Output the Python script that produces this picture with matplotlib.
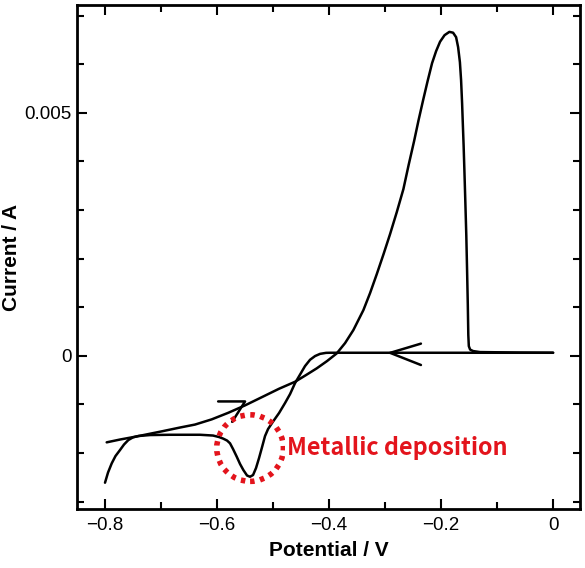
import matplotlib
matplotlib.use("Agg")
import matplotlib.pyplot as plt
from matplotlib.patches import Ellipse
from matplotlib.ticker import MultipleLocator, FuncFormatter

# ---- data ----
# cathodic sweep: 0 V -> -0.8 V
cathodic_V = [0.000, -0.1304, -0.2732, -0.3982, -0.4054, -0.4161, -0.4250, -0.4339,
              -0.4429, -0.4518, -0.4607, -0.4696, -0.4786, -0.4893, -0.5000, -0.5089,
              -0.5143, -0.5196, -0.5250, -0.5304, -0.5357, -0.5411, -0.5464, -0.5530,
              -0.5589, -0.5648, -0.5714, -0.5768, -0.5821, -0.5893, -0.5964, -0.6071,
              -0.6304, -0.6839, -0.7196, -0.7405, -0.7500, -0.7584, -0.7661, -0.7732,
              -0.7813, -0.7880, -0.7946, -0.8000]
cathodic_I = [0.000062, 0.000062, 0.000062, 0.000062, 0.000060, 0.000039, -0.000006, -0.000082,
              -0.000212, -0.000387, -0.000562, -0.000788, -0.000973, -0.001179, -0.001354, -0.001508,
              -0.001652, -0.001879, -0.002105, -0.002311, -0.002455, -0.002490, -0.002465, -0.002352,
              -0.002228, -0.002078, -0.001920, -0.001802, -0.001745, -0.001704, -0.001673, -0.001642,
              -0.001626, -0.001626, -0.001632, -0.001652, -0.001679, -0.001735, -0.001827, -0.001940,
              -0.002064, -0.002214, -0.002403, -0.002613]
# anodic sweep: -0.8 V -> 0 V
anodic_V = [-0.7970, -0.7732, -0.7464, -0.6988, -0.6661, -0.6393, -0.6095, -0.5798,
            -0.5500, -0.5196, -0.4893, -0.4607, -0.4411, -0.4220, -0.4036, -0.3863,
            -0.3714, -0.3566, -0.3387, -0.3268, -0.3148, -0.3027, -0.2911, -0.2791,
            -0.2673, -0.2580, -0.2482, -0.2402, -0.2321, -0.2241, -0.2161, -0.2089,
            -0.2018, -0.1938, -0.1852, -0.1786, -0.1732, -0.1696, -0.1664, -0.1643,
            -0.1625, -0.1611, -0.1598, -0.1584, -0.1568, -0.1550, -0.1536, -0.1523,
            -0.1514, -0.1505, -0.1482, -0.1429, -0.1304, -0.0589, 0.000]
anodic_I = [-0.001782, -0.001724, -0.001667, -0.001556, -0.001477, -0.001416, -0.001309, -0.001173,
            -0.001021, -0.000850, -0.000679, -0.000535, -0.000397, -0.000259, -0.000109, 0.000049,
            0.000261, 0.000529, 0.000940, 0.001290, 0.001681, 0.002093, 0.002504, 0.002957,
            0.003430, 0.003924, 0.004418, 0.004850, 0.005261, 0.005652, 0.006023, 0.006270,
            0.006465, 0.006599, 0.006667, 0.006650, 0.006558, 0.006352, 0.006043, 0.005673,
            0.005200, 0.004747, 0.004335, 0.003821, 0.003204, 0.002483, 0.001763, 0.001043,
            0.000426, 0.000199, 0.000128, 0.000097, 0.000076, 0.000066, 0.000062]

x_ticks = [-0.8, -0.6, -0.4, -0.2, 0.0]
y_ticks = [0.0, 0.005]
x_label = "Potential / V"
y_label = "Current / A"
note_text = "Metallic deposition"

# ---- figure ----
plt.rcParams['font.family'] = ['Liberation Sans', 'DejaVu Sans']
fig = plt.figure(figsize=(5.85, 5.68), dpi=100)
ax = fig.add_axes([77/585, 1-509/568, (580-77)/585, (509-5)/568])

lw = 1.8
line_kw = dict(color='black', lw=lw, solid_capstyle='round', solid_joinstyle='round')
ax.plot(cathodic_V, cathodic_I, **line_kw)
ax.plot(anodic_V, anodic_I, **line_kw)

# scan-direction arrowheads
ax.plot([-0.236, -0.291, -0.236], [0.00025, 0.00006, -0.00019], **line_kw)
ax.plot([-0.598, -0.550, -0.573], [-0.00094, -0.00094, -0.00136], **line_kw)

# dotted red circle
red = '#e3141c'
circ = Ellipse((-0.541, -0.00190), width=0.119, height=0.00137, fill=False,
               edgecolor=red, lw=4, linestyle=(0, (0.8, 1.0)), zorder=3)
ax.add_patch(circ)
ax.text(-0.4755, -0.00190, note_text, color=red, fontsize=16.8, fontweight='bold',
        family=['Noto Sans CJK KR', 'DejaVu Sans'], ha='left', va='center',
        bbox=dict(facecolor='white', edgecolor='none', pad=1), zorder=4)

ax.set_xlim(-0.85, 0.048)
ax.set_ylim(-0.003154, 0.00722)

ax.set_xticks(x_ticks)
ax.set_yticks(y_ticks)
ax.xaxis.set_minor_locator(MultipleLocator(0.1))
ax.yaxis.set_minor_locator(MultipleLocator(0.001))

def fmt(v, pos):
    if abs(v) < 1e-12:
        return '0'
    return f'{v:g}'.replace('-', '\u2212')

ax.xaxis.set_major_formatter(FuncFormatter(fmt))
ax.yaxis.set_major_formatter(FuncFormatter(fmt))

ax.tick_params(which='both', direction='in', top=True, right=True, width=1.5, labelsize=13.5)
ax.tick_params(which='major', length=7.5)
ax.tick_params(which='minor', length=5)
ax.tick_params(axis='x', pad=6)
ax.tick_params(axis='y', pad=4)
for s in ax.spines.values():
    s.set_linewidth(2)

ax.set_xlabel(x_label, fontsize=15, fontweight='bold', labelpad=5)
ax.set_ylabel(y_label, fontsize=15, fontweight='bold', labelpad=2)

fig.savefig('out.png', dpi=100)
